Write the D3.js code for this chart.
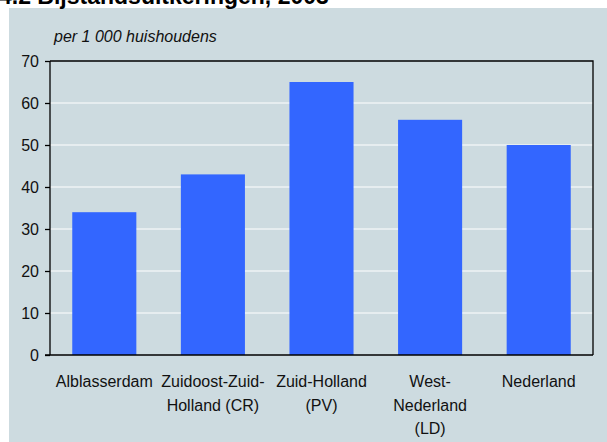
<!DOCTYPE html>
<html lang="nl">
<head>
    <meta charset="utf-8">
    <title>Bijstandsuitkeringen, 2003</title>
    <style>
        body {
            margin: 0;
            background: #fff;
            font-family: Arial, "Liberation Sans", sans-serif;
        }
    </style>
</head>
<body>
    <div id="chart"></div>

    <script src="https://d3js.org/d3.v7.min.js"></script>
    <script>
        // Data
        const categories = ["Alblasserdam", "Zuidoost-Zuid-Holland (CR)", "Zuid-Holland (PV)", "West-Nederland (LD)", "Nederland"];
        const labelLines = [
            ["Alblasserdam"],
            ["Zuidoost-Zuid-", "Holland (CR)"],
            ["Zuid-Holland", "(PV)"],
            ["West-", "Nederland", "(LD)"],
            ["Nederland"]
        ];
        const values = [34, 43, 65, 56, 50];
        const yTicks = [0, 10, 20, 30, 40, 50, 60, 70];

        const width = 607, height = 442;
        const margin = {top: 61, right: 14, bottom: 87, left: 50};

        const svg = d3.select("#chart")
            .append("svg")
            .attr("width", width)
            .attr("height", height)
            .style("font-family", "Arial, 'Liberation Sans', sans-serif");

        // background panel
        svg.append("rect")
            .attr("x", 9)
            .attr("y", 8)
            .attr("width", width - 9)
            .attr("height", height - 8)
            .attr("fill", "#cddbe0");

        // title, cut off at the top like in the source
        svg.append("text")
            .attr("x", -1)
            .attr("y", 4)
            .attr("font-size", "23px")
            .attr("font-weight", "bold")
            .attr("fill", "#000")
            .text("4.2 Bijstandsuitkeringen, 2003");

        svg.append("text")
            .attr("x", 54)
            .attr("y", 42)
            .attr("font-size", "16px")
            .attr("font-style", "italic")
            .attr("fill", "#111")
            .text("per 1 000 huishoudens");

        const x = d3.scaleBand()
            .domain(categories)
            .range([margin.left, width - margin.right])
            .paddingInner(0.41)
            .paddingOuter(0.205);

        const y = d3.scaleLinear()
            .domain([0, 70])
            .range([height - margin.bottom, margin.top]);

        // gridlines
        svg.append("g")
            .selectAll("line")
            .data(yTicks.filter(d => d > 0 && d < 70))
            .join("line")
            .attr("x1", margin.left)
            .attr("x2", width - margin.right)
            .attr("y1", d => y(d))
            .attr("y2", d => y(d))
            .attr("stroke", "#fff")
            .attr("stroke-width", 1);

        // bars
        svg.append("g")
            .selectAll("rect")
            .data(values)
            .join("rect")
            .attr("x", (d, i) => x(categories[i]))
            .attr("y", d => y(d))
            .attr("width", x.bandwidth())
            .attr("height", d => y(0) - y(d))
            .attr("fill", "#3366ff");

        // box top and right
        svg.append("path")
            .attr("d", `M${margin.left},${margin.top}H${width - margin.right}V${y(0)}`)
            .attr("fill", "none")
            .attr("stroke", "#000")
            .attr("stroke-width", 1.3);

        // y axis
        const yAxis = svg.append("g")
            .attr("transform", `translate(${margin.left},0)`)
            .call(d3.axisLeft(y).tickValues(yTicks).tickSize(5).tickPadding(6));
        yAxis.attr("font-family", null);
        yAxis.selectAll("line, path").attr("stroke", "#000").attr("stroke-width", 1.3);
        yAxis.select(".domain").attr("d", `M0,${margin.top}V${y(0)}`);
        yAxis.selectAll("text")
            .attr("font-size", "16px")
            .attr("fill", "#111");

        // x axis line
        svg.append("line")
            .attr("x1", margin.left - 5)
            .attr("x2", width - margin.right)
            .attr("y1", y(0))
            .attr("y2", y(0))
            .attr("stroke", "#000")
            .attr("stroke-width", 1.5);

        // category labels
        const labels = svg.append("g")
            .selectAll("text")
            .data(categories)
            .join("text")
            .attr("text-anchor", "middle")
            .attr("font-size", "16px")
            .attr("fill", "#111")
            .attr("transform", d => `translate(${x(d) + x.bandwidth() / 2},387)`);

        labels.selectAll("tspan")
            .data((d, i) => labelLines[i])
            .join("tspan")
            .attr("x", 0)
            .attr("dy", (d, i) => i === 0 ? 0 : 23.5)
            .text(d => d);
    </script>
</body>
</html>
